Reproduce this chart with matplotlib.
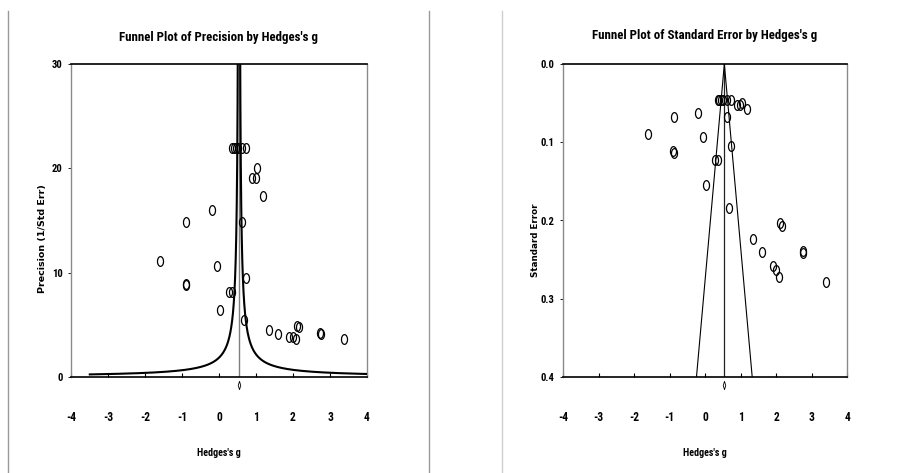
import numpy as np
import matplotlib
matplotlib.use("Agg")
import matplotlib.pyplot as plt
from matplotlib import font_manager as fm
from matplotlib.path import Path
from matplotlib.lines import Line2D

# ---------------- data ----------------
hedges_g = [-1.60, -0.885, -0.90, -0.89, -0.20, -0.05, 0.02, 0.28, 0.35,
            0.35, 0.40, 0.45, 0.50, 0.62, 0.72,
            0.61, 0.72, 0.68, 0.90, 0.99, 1.04, 1.19,
            1.34, 1.60, 2.10, 2.17, 1.90, 1.99, 2.09, 2.74, 2.75, 3.39]
std_err = [0.090, 0.0674, 0.1116, 0.1136, 0.0623, 0.0938, 0.155, 0.1226, 0.123,
           0.0455, 0.0455, 0.0455, 0.0455, 0.0455, 0.0455,
           0.0675, 0.105, 0.184, 0.0525, 0.0525, 0.0500, 0.0575,
           0.224, 0.240, 0.203, 0.207, 0.258, 0.263, 0.272, 0.239, 0.241, 0.278]
combined_g = 0.54
funnel_k_precision = 1.0
funnel_k_se = 1.96
x_ticks = [-4, -3, -2, -1, 0, 1, 2, 3, 4]
prec_ticks = [0, 10, 20, 30]
se_ticks = [0.0, 0.1, 0.2, 0.3, 0.4]

g = np.array(hedges_g)
se = np.array(std_err)
prec = 1.0 / se

# ---------------- fonts ----------------
fonts = fm.fontManager.ttflist
names = {f.name for f in fonts}
narrow = None
for cand in ["Liberation Sans Narrow", "Arial Narrow", "Roboto Condensed",
             "Open Sans Condensed", "DejaVu Sans Condensed", "Noto Sans Condensed"]:
    if cand in names:
        narrow = cand
        break
is_narrow = narrow is not None
if narrow is None:
    for f in fonts:
        if str(f.stretch) in ("condensed", "semi-condensed", "extra-condensed",
                              "ultra-condensed", "75", "62.5", "87.5") and \
                f.name in ("Roboto", "Open Sans", "Noto Sans", "Inter", "Liberation Sans"):
            narrow = f.name
            is_narrow = True
            break
if narrow is None:
    narrow = "Liberation Sans"
stretch = "condensed"
title_fs = 9.3 if is_narrow else 8.4
tick_fs = 8.3 if is_narrow else 7.5
xlab_fs = 7.2 if is_narrow else 6.5

W, H = 899, 473
fig = plt.figure(figsize=(W / 100, H / 100), dpi=100)

def fx(px):
    return px / W

def fy(py):
    return 1 - py / H

# page lines
for xp, col in [(7.7, "#9a9a9a"), (429.3, "#9a9a9a"), (501.7, "#cfcfcf")]:
    fig.add_artist(Line2D([fx(xp), fx(xp)], [fy(11), fy(473)], color=col, lw=1.0,
                          transform=fig.transFigure))

# ellipse marker
t = np.linspace(0, 2 * np.pi, 60)
ell = Path(np.column_stack([0.62 * np.cos(t), np.sin(t)]), closed=True)
diam = Path([(0, 1), (0.3, 0), (0, -1), (-0.3, 0), (0, 1)], closed=True)

def style_axes(ax, ylim, yticks, ylabels):
    ax.set_xlim(-4, 4)
    ax.set_ylim(*ylim)
    ax.set_xticks(x_ticks)
    ax.set_xticklabels([str(v) for v in x_ticks], fontfamily=narrow, fontstretch=stretch,
                       fontweight="bold", fontsize=tick_fs)
    ax.set_yticks(yticks)
    ax.set_yticklabels(ylabels, fontfamily=narrow, fontstretch=stretch,
                       fontweight="bold", fontsize=tick_fs - 0.6)
    ax.tick_params(axis="x", direction="in", length=3, width=0.8, pad=29)
    ax.tick_params(axis="y", direction="out", length=2, width=0.6, pad=4)
    for s in ["top", "bottom"]:
        ax.spines[s].set_color("black")
        ax.spines[s].set_linewidth(1.2)
    for s in ["left", "right"]:
        ax.spines[s].set_color("#8a8a8a")
        ax.spines[s].set_linewidth(1.0)
    for lab in ax.get_xticklabels():
        lab.set_verticalalignment("center")

# ---------------- left panel ----------------
axL = fig.add_axes([fx(71), fy(377), fx(367) - fx(71), fy(64) - fy(377)])
style_axes(axL, (0, 30), prec_ticks, [str(v) for v in prec_ticks])
axL.axvline(combined_g, color="#7f7f7f", lw=1.0, zorder=2)
pgrid = np.geomspace(0.248, 60, 400)
axL.plot(combined_g - funnel_k_precision / pgrid, pgrid, color="black", lw=1.5, zorder=3)
axL.plot(combined_g + funnel_k_precision / pgrid, pgrid, color="black", lw=1.5, zorder=3)
axL.plot(g, prec, linestyle="none", marker=ell, ms=7, mfc="none", mec="black",
         mew=0.9, zorder=4)
axL.plot([combined_g], [-0.027], transform=axL.get_xaxis_transform(), marker=diam,
         ms=6, mfc="none", mec="black", mew=0.6, clip_on=False)

# ---------------- right panel ----------------
axR = fig.add_axes([fx(563), fy(377), fx(847.3) - fx(563), fy(64) - fy(377)])
style_axes(axR, (0.4, 0.0), se_ticks, [f"{v:.1f}" for v in se_ticks])
axR.axvline(combined_g, color="#222222", lw=0.9, zorder=2)
se_line = np.array([0.0, 0.4])
axR.plot(combined_g - funnel_k_se * se_line, se_line, color="black", lw=0.8, zorder=3)
axR.plot(combined_g + funnel_k_se * se_line, se_line, color="black", lw=0.8, zorder=3)
axR.plot(g, se, linestyle="none", marker=ell, ms=7, mfc="none", mec="black",
         mew=0.9, zorder=4)
axR.plot([combined_g], [-0.027], transform=axR.get_xaxis_transform(), marker=diam,
         ms=6, mfc="none", mec="black", mew=0.6, clip_on=False)

# ---------------- texts ----------------
tkw = dict(ha="center", va="center", fontfamily=narrow, fontstretch=stretch,
           fontweight="bold")
fig.text(fx(218.5), fy(37), "Funnel Plot of Precision by Hedges's g", fontsize=title_fs, **tkw)
fig.text(fx(705), fy(36), "Funnel Plot of Standard Error by Hedges's g", fontsize=title_fs, **tkw)
fig.text(fx(218.5), fy(452.5), "Hedges's g", fontsize=xlab_fs, **tkw)
fig.text(fx(705), fy(452.5), "Hedges's g", fontsize=xlab_fs, **tkw)
fig.text(fx(42.5), fy(239), "Precision (1/Std Err)", rotation=90, ha="center",
         va="center", fontfamily="DejaVu Sans", fontweight="bold", fontsize=6.8)
fig.text(fx(536), fy(240), "Standard Error", rotation=90, ha="center",
         va="center", fontfamily="DejaVu Sans", fontweight="bold", fontsize=6.3)

fig.savefig("out.png", dpi=100)
